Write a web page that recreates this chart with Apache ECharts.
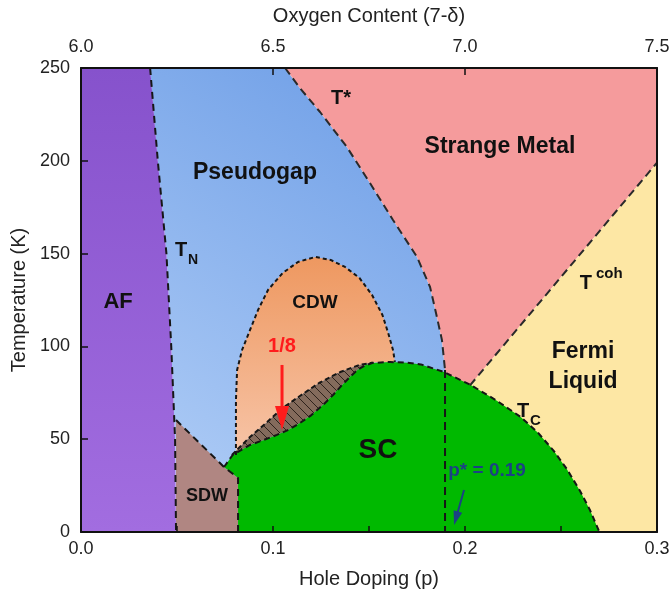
<!DOCTYPE html>
<html>
<head>
<meta charset="utf-8">
<script src="https://cdn.jsdelivr.net/npm/echarts@6/dist/echarts.min.js"></script>
<style>
  html, body { margin: 0; padding: 0; background: #ffffff; }
  #chart { width: 670px; height: 594px; }
</style>
</head>
<body>
<div id="chart"></div>
<script>
// ---- Phase boundaries: [hole doping p, temperature T (K)] ----
const tnLine = [[0.036, 250], [0.040, 200], [0.0445, 150], [0.047, 100], [0.049, 50], [0.0495, 0]];
const sdwEdge = [[0.0495, 60.3], [0.0745, 35.0], [0.0818, 29.1], [0.0818, 0]];
const tStarLine = [[0.1063, 250], [0.114, 239.2], [0.1245, 226.3], [0.1385, 207.4], [0.1505, 188.0],
                   [0.1625, 168.1], [0.175, 148.2], [0.1818, 132.0], [0.1849, 118.0], [0.188, 103.4], [0.1896, 87.3]];
const pStarLine = [[0.1896, 87.3], [0.1896, 0]];
const tCohLine = [[0.2026, 79], [0.3, 199]];
const scDome = [[0.0745, 35.0], [0.079, 41.5], [0.088, 46.9], [0.095, 49.5], [0.102, 52.3], [0.108, 55.0],
                [0.114, 58.7], [0.120, 63.0], [0.126, 68.4], [0.131, 73.5], [0.135, 78.1], [0.140, 83.5],
                [0.144, 87.3], [0.148, 89.8], [0.152, 91.1], [0.161, 91.6], [0.170, 91.2], [0.177, 90.3],
                [0.189, 86.2], [0.203, 79.2], [0.216, 71.1], [0.229, 62.0], [0.238, 53.5], [0.246, 44.0],
                [0.253, 34.0], [0.260, 22.0], [0.265, 12.0], [0.270, 0]];
const cdwDome = [[0.0807, 41.5], [0.0807, 71.1], [0.0813, 87.3], [0.0839, 98.1], [0.088, 108.8], [0.0922, 119.6],
                 [0.0974, 130.4], [0.105, 139.5], [0.113, 145.5], [0.122, 148.2], [0.130, 146.6], [0.1375, 142.8],
                 [0.145, 136.9], [0.1516, 127.7], [0.157, 116.9], [0.160, 107.2], [0.1625, 98.1], [0.1635, 91.6]];
const hatchTop = [[0.0786, 41.5], [0.088, 51.2], [0.097, 59.3], [0.105, 66.8], [0.114, 73.3],
                  [0.124, 80.3], [0.135, 86.2], [0.145, 90.0], [0.152, 91.3]];

// ---- Axis ticks ----
const dopingTicks = [0.0, 0.1, 0.2, 0.3];
const oxygenTicks = [6.0, 6.5, 7.0, 7.5];
const tempTicks = [0, 50, 100, 150, 200, 250];

// ---- Annotations ----
const regionLabels = [
  { text: 'AF', at: [0.0193, 123.9], size: 22 },
  { text: 'Pseudogap', at: [0.0906, 193.4], size: 23 },
  { text: 'T*', at: [0.1354, 233.8], size: 20 },
  { text: 'Strange Metal', at: [0.2182, 207.4], size: 23 },
  { text: 'T', at: [0.0521, 151.9], size: 20, sub: { text: 'N', dx: 7, dy: 10, size: 14 } },
  { text: 'T', at: [0.2630, 134.0], size: 20, sub: { text: 'coh', dx: 10, dy: -9, size: 15 } },
  { text: 'CDW', at: [0.1219, 123.4], size: 19 },
  { text: '1/8', at: [0.1047, 99.7], size: 20, color: '#ff1c1c' },
  { text: 'Fermi', at: [0.2615, 97.0], size: 23 },
  { text: 'Liquid', at: [0.2615, 80.8], size: 23 },
  { text: 'T', at: [0.2302, 65.0], size: 20, sub: { text: 'C', dx: 7, dy: 9, size: 15 } },
  { text: 'SC', at: [0.1547, 44.2], size: 28 },
  { text: 'SDW', at: [0.0656, 19.4], size: 18 },
  { text: 'p* = 0.19', at: [0.2115, 32.9], size: 19, color: '#1b4284' }
];
const arrows = [
  { from: [0.1047, 90.0], to: [0.1047, 55.0], color: '#ff1c1c', width: 3, head: 24, headW: 14 },
  { from: [0.1995, 22.6], to: [0.1943, 3.8], color: '#1b4284', width: 2, head: 14, headW: 9 }
];

const FONT = '"Liberation Sans", Arial, Helvetica, sans-serif';
const G = echarts.graphic;

// Hatch tile for the CDW / SC coexistence band
function hatchPattern() {
  const s = 9;
  const c = document.createElement('canvas');
  c.width = s; c.height = s;
  const ctx = c.getContext('2d');
  ctx.fillStyle = '#846b5c';
  ctx.fillRect(0, 0, s, s);
  ctx.strokeStyle = '#2e221b';
  ctx.lineWidth = 1;
  ctx.beginPath();
  ctx.moveTo(-1, -1); ctx.lineTo(s + 1, s + 1);
  ctx.moveTo(-1, s - 1); ctx.lineTo(1, s + 1);
  ctx.moveTo(s - 1, -1); ctx.lineTo(s + 1, 1);
  ctx.stroke();
  return { image: c, repeat: 'repeat' };
}

function polygonSeries(name, pts, fill, z) {
  return {
    type: 'custom', name, z, silent: true, clip: true, animation: false,
    data: pts,
    renderItem: function (params, api) {
      if (params.dataIndex !== 0) return null;
      const points = pts.map(p => api.coord(p));
      return { type: 'polygon', shape: { points }, style: { fill: fill, stroke: null } };
    }
  };
}

function dashSeries(name, pts, dash, width, color) {
  return {
    type: 'line', name, data: pts, z: 6, silent: true, animation: false,
    symbol: 'none', showSymbol: false, clip: true,
    lineStyle: { color: color || '#161616', width: width, type: dash, cap: 'butt' }
  };
}

// Region outlines
const afPoly = [[0, 250]].concat(tnLine, [[0, 0]]);
const pgPoly = tnLine.concat([[0.1896, 0]], tStarLine.slice().reverse());
const smPoly = tStarLine.concat([[0.1896, 60], [0.2026, 60]], tCohLine, [[0.3, 250]]);
const flPoly = tCohLine.concat([[0.3, 0], [0.2026, 0]]);
const sdwPoly = [[0.0495, 0]].concat(sdwEdge);
const cdwPoly = cdwDome.concat(hatchTop.slice().reverse());
const hatchPoly = hatchTop.concat(scDome.filter(p => p[0] >= 0.0786 && p[0] <= 0.1525).reverse());
const scPoly = [[0.0818, 0], [0.0818, 29.1]].concat(scDome);

const chart = echarts.init(document.getElementById('chart'), null, { renderer: 'canvas' });

const axisLineStyle = { color: '#111', width: 2 };
const tickStyle = { color: '#111', width: 1.5 };
const labelStyle = { fontFamily: FONT, fontSize: 18, color: '#222' };
const nameStyle = { fontFamily: FONT, fontSize: 20, color: '#222' };

const option = {
  backgroundColor: '#ffffff',
  animation: false,
  grid: { left: 81, top: 68, right: 13, bottom: 62, containLabel: false, outerBoundsMode: 'none' },
  xAxis: [
    {
      type: 'value', position: 'bottom', min: dopingTicks[0], max: dopingTicks[dopingTicks.length - 1],
      interval: 0.1, z: 10,
      name: 'Hole Doping (p)', nameLocation: 'middle', nameGap: 37, nameTextStyle: nameStyle,
      axisLine: { show: true, onZero: false, lineStyle: axisLineStyle },
      axisTick: { show: true, inside: true, length: 6, lineStyle: tickStyle },
      minorTick: { show: true, splitNumber: 2, length: 6, lineStyle: tickStyle },
      splitLine: { show: false },
      axisLabel: Object.assign({ margin: 8, formatter: v => v.toFixed(1) }, labelStyle)
    },
    {
      type: 'value', position: 'top', min: oxygenTicks[0], max: oxygenTicks[oxygenTicks.length - 1],
      interval: 0.5, z: 10,
      name: 'Oxygen Content (7-δ)', nameLocation: 'middle', nameGap: 42, nameTextStyle: nameStyle,
      axisLine: { show: true, onZero: false, lineStyle: axisLineStyle },
      axisTick: { show: true, inside: true, length: 7, lineStyle: tickStyle },
      splitLine: { show: false },
      axisLabel: Object.assign({ margin: 12, formatter: v => v.toFixed(1) }, labelStyle)
    }
  ],
  yAxis: [
    {
      type: 'value', position: 'left', min: tempTicks[0], max: tempTicks[tempTicks.length - 1],
      interval: 50, z: 10,
      name: 'Temperature (K)', nameLocation: 'middle', nameGap: 48, nameRotate: 90, nameTextStyle: nameStyle,
      axisLine: { show: true, onZero: false, lineStyle: axisLineStyle },
      axisTick: { show: true, inside: true, length: 7, lineStyle: tickStyle },
      splitLine: { show: false },
      axisLabel: Object.assign({ margin: 11 }, labelStyle)
    },
    {
      type: 'value', position: 'right', min: 0, max: 250, z: 10,
      axisLine: { show: true, onZero: false, lineStyle: axisLineStyle },
      axisTick: { show: false }, axisLabel: { show: false }, splitLine: { show: false }
    }
  ],
  series: [
    polygonSeries('Pseudogap', pgPoly, new G.LinearGradient(0, 1, 1, 0, [
      { offset: 0, color: '#b4d0f7' }, { offset: 1, color: '#6b9ce6' }]), 1),
    polygonSeries('Strange Metal', smPoly, '#f59b9c', 1),
    polygonSeries('Fermi Liquid', flPoly, '#fde7a4', 1),
    polygonSeries('AF', afPoly, new G.LinearGradient(0, 0, 0, 1, [
      { offset: 0, color: '#8652cc' }, { offset: 1, color: '#a26de0' }]), 2),
    polygonSeries('SDW', sdwPoly, '#b08682', 2),
    polygonSeries('CDW', cdwPoly, new G.LinearGradient(0, 0, 0, 1, [
      { offset: 0, color: '#ee9860' }, { offset: 1, color: '#f7c4a7' }]), 2),
    polygonSeries('CDW+SC', hatchPoly, hatchPattern(), 3),
    polygonSeries('SC', scPoly, '#00b900', 4),

    dashSeries('T_N', tnLine, [7, 5], 2),
    dashSeries('SDW edge', sdwEdge, [7, 5], 2),
    dashSeries('T*', tStarLine, [8, 5], 2, '#2a2a2a'),
    dashSeries('p*', pStarLine, [8, 5], 2),
    dashSeries('T_coh', tCohLine, [8, 5], 2, '#2a2a2a'),
    dashSeries('CDW edge', cdwDome, [4, 3], 2),
    dashSeries('CDW+SC edge', hatchTop, [5, 3], 2),
    dashSeries('T_c', scDome, [6, 4], 2),

    {
      type: 'custom', name: 'labels', z: 8, silent: true, animation: false, clip: false,
      data: regionLabels.map(l => l.at),
      renderItem: function (params, api) {
        const l = regionLabels[params.dataIndex];
        const c = api.coord([api.value(0), api.value(1)]);
        const fill = l.color || '#111111';
        const children = [{
          type: 'text', x: c[0], y: c[1],
          style: { text: l.text, font: 'bold ' + l.size + 'px ' + FONT, fill: fill, align: 'center', verticalAlign: 'middle' }
        }];
        if (l.sub) {
          children.push({
            type: 'text', x: c[0] + l.sub.dx, y: c[1] + l.sub.dy,
            style: { text: l.sub.text, font: 'bold ' + l.sub.size + 'px ' + FONT, fill: fill, align: 'left', verticalAlign: 'middle' }
          });
        }
        return { type: 'group', children };
      }
    },
    {
      type: 'custom', name: 'arrows', z: 8, silent: true, animation: false, clip: false,
      data: arrows.map(a => a.from.concat(a.to)),
      renderItem: function (params, api) {
        const a = arrows[params.dataIndex];
        const s = api.coord([api.value(0), api.value(1)]);
        const e = api.coord([api.value(2), api.value(3)]);
        const dx = e[0] - s[0], dy = e[1] - s[1];
        const len = Math.sqrt(dx * dx + dy * dy);
        const ux = dx / len, uy = dy / len;
        const bx = e[0] - ux * a.head, by = e[1] - uy * a.head;
        const px = -uy, py = ux;
        return {
          type: 'group', children: [
            { type: 'line', shape: { x1: s[0], y1: s[1], x2: bx + ux * 2, y2: by + uy * 2 },
              style: { stroke: a.color, lineWidth: a.width } },
            { type: 'polygon', shape: { points: [[e[0], e[1]],
                [bx + px * a.headW / 2, by + py * a.headW / 2],
                [bx - px * a.headW / 2, by - py * a.headW / 2]] },
              style: { fill: a.color } }
          ]
        };
      }
    }
  ]
};

chart.setOption(option);
</script>
</body>
</html>
